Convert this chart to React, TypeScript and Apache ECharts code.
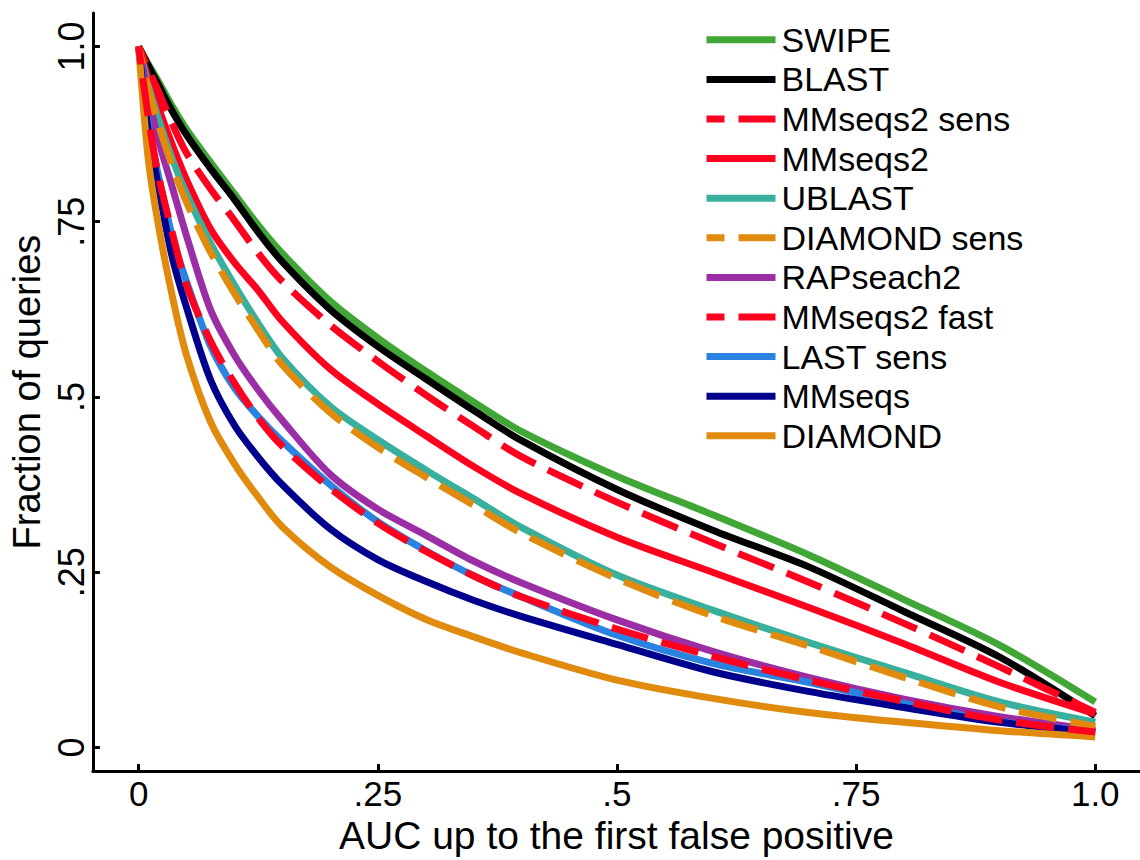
import React, { useEffect, useRef } from "react";
import * as echarts from "echarts";

// Common x grid (AUC up to the first false positive)
const X_VALUES = [0, 0.01, 0.02, 0.035, 0.05, 0.075, 0.1, 0.125, 0.15, 0.2, 0.25, 0.3, 0.35, 0.4, 0.5, 0.6, 0.7, 0.8, 0.9, 1.0];

const SWIPE = [1, 0.975, 0.952, 0.915, 0.882, 0.835, 0.79, 0.745, 0.705, 0.637, 0.584, 0.537, 0.493, 0.451, 0.387, 0.332, 0.275, 0.211, 0.146, 0.065];
const BLAST = [1, 0.973, 0.947, 0.908, 0.874, 0.826, 0.782, 0.735, 0.693, 0.625, 0.572, 0.526, 0.481, 0.438, 0.368, 0.31, 0.258, 0.194, 0.129, 0.045];
const MMSEQS2_SENS = [1, 0.968, 0.938, 0.89, 0.848, 0.797, 0.752, 0.705, 0.665, 0.603, 0.551, 0.503, 0.458, 0.415, 0.35, 0.292, 0.236, 0.177, 0.115, 0.05];
const MMSEQS2 = [1, 0.955, 0.915, 0.86, 0.81, 0.74, 0.692, 0.652, 0.608, 0.54, 0.49, 0.445, 0.401, 0.362, 0.3, 0.25, 0.2, 0.148, 0.093, 0.048];
const UBLAST = [1, 0.945, 0.9, 0.84, 0.79, 0.72, 0.66, 0.605, 0.556, 0.487, 0.439, 0.396, 0.355, 0.314, 0.246, 0.196, 0.15, 0.107, 0.065, 0.036];
const DIAMOND_SENS = [1, 0.94, 0.892, 0.83, 0.778, 0.707, 0.648, 0.595, 0.546, 0.478, 0.428, 0.386, 0.346, 0.306, 0.241, 0.188, 0.145, 0.1, 0.058, 0.03];
const RAPSEACH2 = [1, 0.93, 0.87, 0.8, 0.73, 0.625, 0.56, 0.51, 0.467, 0.39, 0.34, 0.303, 0.266, 0.235, 0.182, 0.137, 0.1, 0.069, 0.044, 0.025];
const MMSEQS2_FAST = [1, 0.9, 0.82, 0.735, 0.66, 0.58, 0.52, 0.47, 0.43, 0.37, 0.32, 0.28, 0.245, 0.215, 0.169, 0.13, 0.096, 0.066, 0.039, 0.022];
const LAST_SENS = [1, 0.89, 0.82, 0.73, 0.665, 0.573, 0.513, 0.472, 0.437, 0.375, 0.322, 0.281, 0.245, 0.215, 0.16, 0.12, 0.093, 0.063, 0.037, 0.023];
const MMSEQS = [1, 0.88, 0.805, 0.7, 0.628, 0.525, 0.46, 0.414, 0.375, 0.312, 0.268, 0.237, 0.21, 0.187, 0.147, 0.108, 0.08, 0.057, 0.036, 0.022];
const DIAMOND = [1, 0.84, 0.75, 0.645, 0.56, 0.465, 0.405, 0.357, 0.315, 0.258, 0.217, 0.183, 0.158, 0.135, 0.096, 0.07, 0.05, 0.036, 0.024, 0.015];

const TICK_VALUES = [0, 0.25, 0.5, 0.75, 1];
const TICK_LABELS = ["0", ".25", ".5", ".75", "1.0"];

const SERIES_DEF = [
  { name: "SWIPE", data: SWIPE, color: "#40a635", dashed: false },
  { name: "BLAST", data: BLAST, color: "#000000", dashed: false },
  { name: "MMseqs2 sens", data: MMSEQS2_SENS, color: "#ff001e", dashed: true },
  { name: "MMseqs2", data: MMSEQS2, color: "#ff001e", dashed: false },
  { name: "UBLAST", data: UBLAST, color: "#39b09e", dashed: false },
  { name: "DIAMOND sens", data: DIAMOND_SENS, color: "#e08a0e", dashed: true },
  { name: "RAPseach2", data: RAPSEACH2, color: "#9b2da5", dashed: false },
  { name: "MMseqs2 fast", data: MMSEQS2_FAST, color: "#ff001e", dashed: true },
  { name: "LAST sens", data: LAST_SENS, color: "#2a82e1", dashed: false },
  { name: "MMseqs", data: MMSEQS, color: "#00008c", dashed: false },
  { name: "DIAMOND", data: DIAMOND, color: "#e08a0e", dashed: false },
];

const FONT = "Liberation Sans";

function tickLabel(v: number): string {
  let best = -1;
  let bd = 1e9;
  TICK_VALUES.forEach((t, i) => {
    const d = Math.abs(t - v);
    if (d < bd) {
      bd = d;
      best = i;
    }
  });
  return bd < 1e-6 ? TICK_LABELS[best] : "";
}

export default function App() {
  const ref = useRef<HTMLDivElement>(null);

  useEffect(() => {
    if (!ref.current) return;
    const chart = echarts.init(ref.current, null, { renderer: "svg" });

    const axisLineStyle = { color: "#000", width: 3 };

    const option: any = {
      animation: false,
      backgroundColor: "#ffffff",
      grid: { left: 87, right: 0, top: 13, bottom: 77, containLabel: false },
      legend: {
        orient: "vertical",
        left: 703,
        top: 20,
        padding: 0,
        itemGap: 0,
        itemWidth: 69,
        itemHeight: 14,
        selectedMode: false,
        data: SERIES_DEF.map((s) => s.name),
        itemStyle: { opacity: 0, borderWidth: 0 },
        lineStyle: { width: 7 },
        textStyle: {
          fontFamily: FONT,
          fontSize: 34,
          color: "#000",
          lineHeight: 39.6,
          padding: [0, 0, 0, 1],
        },
      },
      xAxis: {
        type: "value",
        min: -0.04782,
        max: 1.04678,
        name: "AUC up to the first false positive",
        nameLocation: "middle",
        nameGap: 53,
        nameTextStyle: { fontFamily: FONT, fontSize: 39, color: "#000", verticalAlign: "middle" },
        axisLine: { show: true, onZero: false, lineStyle: axisLineStyle },
        axisTick: { show: true, inside: true, length: 7, lineStyle: axisLineStyle, customValues: TICK_VALUES },
        axisLabel: {
          show: true,
          customValues: TICK_VALUES,
          formatter: (v: number) => tickLabel(v),
          fontFamily: FONT,
          fontSize: 35,
          color: "#000",
          margin: 5,
        },
        splitLine: { show: false },
      },
      yAxis: {
        type: "value",
        min: -0.03371,
        max: 1.04775,
        name: "Fraction of queries",
        nameLocation: "middle",
        nameGap: 65,
        nameTextStyle: { fontFamily: FONT, fontSize: 38, color: "#000", verticalAlign: "middle" },
        axisLine: { show: true, onZero: false, lineStyle: axisLineStyle },
        axisTick: { show: true, inside: true, length: 7, lineStyle: axisLineStyle, customValues: TICK_VALUES },
        axisLabel: {
          show: true,
          customValues: TICK_VALUES,
          formatter: (v: number) => tickLabel(v),
          rotate: 90,
          fontFamily: FONT,
          fontSize: 36,
          color: "#000",
          margin: 3,
        },
        splitLine: { show: false },
      },
      series: SERIES_DEF.map((s) => ({
        name: s.name,
        type: "line",
        data: X_VALUES.map((x, i) => [x, s.data[i]]),
        symbol: "none",
        showSymbol: false,
        smooth: 0.3,
        z: s.dashed ? 3 : 2,
        color: s.color,
        lineStyle: {
          color: s.color,
          width: 7,
          type: s.dashed ? [38, 14] : "solid",
          dashOffset: s.dashed ? 20 : 0,
          cap: "butt",
          join: "round",
        },
        emphasis: { disabled: true },
      })),
    };

    chart.setOption(option);
    return () => {
      chart.dispose();
    };
  }, []);

  return (
    <div
      ref={ref}
      style={{ position: "absolute", left: 0, top: 0, width: 1140, height: 860, background: "#fff" }}
    />
  );
}
